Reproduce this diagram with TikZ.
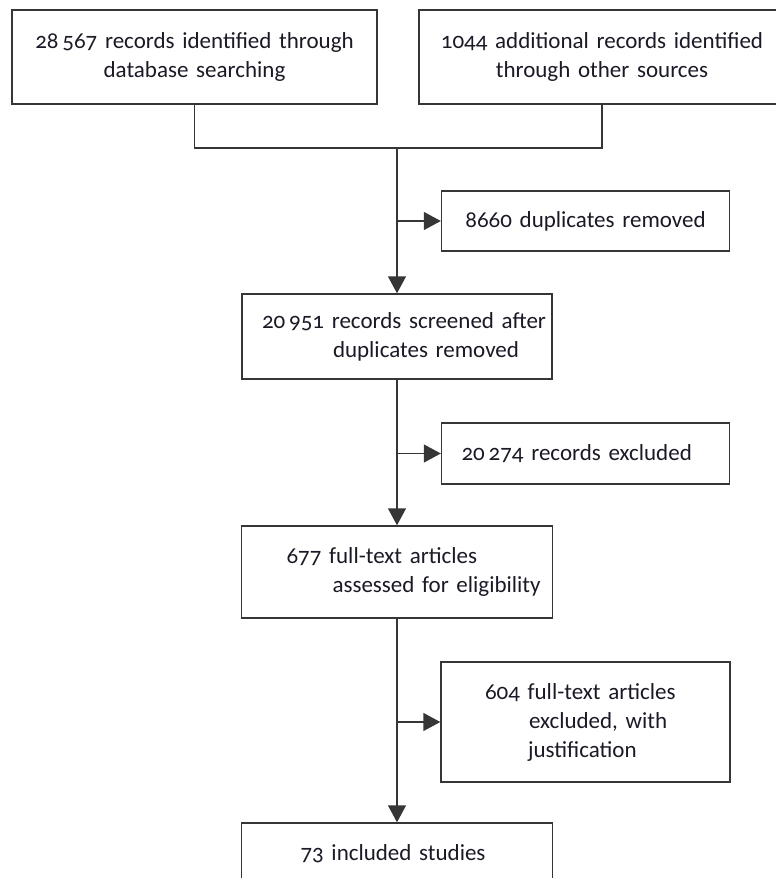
\documentclass[tikz,border=0pt]{standalone}
\usepackage{fontspec}
\setmainfont{Carlito}[Numbers=OldStyle, WordSpace=0.7]
\usetikzlibrary{arrows.meta}

\definecolor{linegray}{HTML}{363636}
\definecolor{inkblack}{HTML}{1A1A26}
\hyphenpenalty=10000

\begin{document}
\begin{tikzpicture}[x=1pt, y=-1pt,
  box/.style={draw=linegray, line width=1.4pt, inner xsep=0pt, inner ysep=0pt, align=left, text=inkblack, font=\fontsize{23}{29}\selectfont},
  flow/.style={draw=linegray, line width=1.4pt},
  arr/.style={flow, -{Triangle[length=17pt, width=18pt]}}]

\useasboundingbox (0,0) rectangle (776,878);
\clip (0,0) rectangle (776,878);

\coordinate (S1) at (194.5, 57);
\coordinate (S2) at (602, 57);
\coordinate (J) at (397, 148);
\coordinate (D) at (585.5, 221);
\coordinate (R) at (397, 336.5);
\coordinate (E) at (585.5, 453.5);
\coordinate (F) at (397, 572);
\coordinate (X) at (585.5, 722);
\coordinate (I) at (397, 854);

\node[box, align=center, text width=365pt, minimum height=94pt] (db) at (S1) {28\,567 records identified through\\database searching};
\node[box, align=center, text width=366pt, minimum height=94pt] (other) at (S2) {1044 additional records identified\\through other sources};
\node[box, align=center, text width=288pt, minimum height=60pt] (dup) at (D) {8660 duplicates removed};
\node[box, text width=310pt, minimum height=85pt] (screen) at (R) {\hspace*{20pt}20\,951 records screened after\\\hspace*{91pt}duplicates removed};
\node[box, text width=288pt, minimum height=61pt] (excl) at (E) {\hspace*{20pt}20\,274 records excluded};
\node[box, text width=311pt, minimum height=92pt] (full) at (F) {\hspace*{45pt}677 full-text articles\\\hspace*{91pt}assessed for eligibility};
\node[box, text width=289pt, minimum height=120pt] (fullexcl) at (X) {\hspace*{44pt}604 full-text articles\\\hspace*{88pt}excluded, with\\\hspace*{87pt}justification};
\node[box, text width=311pt, minimum height=62pt] (incl) at (I) {\hspace*{59pt}73 included studies};

\draw[flow] (db.south) |- (J) -| (other.south);

\draw[arr] (J) -- (screen.north);
\draw[arr] (J |- dup.west) -- (dup.west);
\draw[arr] (screen.south) -- (full.north);
\draw[arr] (screen.south |- excl.west) -- (excl.west);
\draw[arr] (full.south) -- (incl.north);
\draw[arr] (full.south |- fullexcl.west) -- (fullexcl.west);

\end{tikzpicture}
\end{document}
